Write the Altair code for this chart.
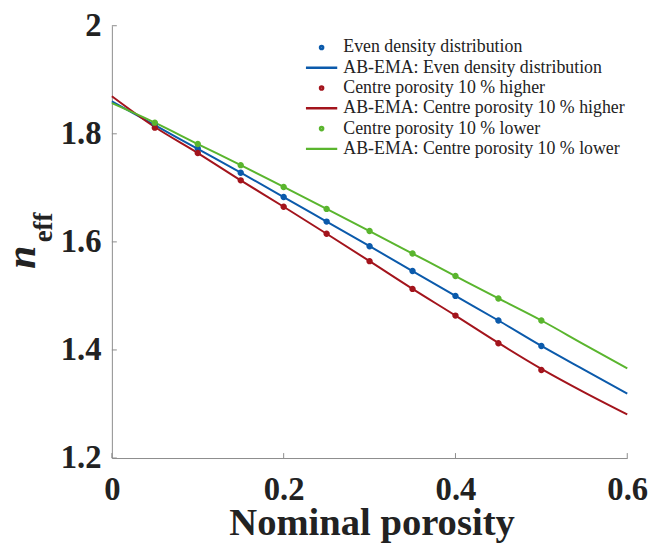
import altair as alt
import pandas as pd

# ---- data ----
pt_x = [0.05, 0.10, 0.15, 0.20, 0.25, 0.30, 0.35, 0.40, 0.45, 0.50]
even_pts = [1.817, 1.773, 1.728, 1.683, 1.6375, 1.592, 1.546, 1.500, 1.4545, 1.4074]
higher_pts = [1.8114, 1.7644, 1.7139, 1.665, 1.615, 1.5643, 1.513, 1.4636, 1.4124, 1.3629]
lower_pts = [1.8206, 1.781, 1.742, 1.7016, 1.661, 1.620, 1.5784, 1.5368, 1.4953, 1.4545]

line_x = [0.0, 0.05, 0.10, 0.15, 0.20, 0.25, 0.30, 0.35, 0.40, 0.45, 0.50, 0.55, 0.60]
even_line = [1.860, 1.816, 1.772, 1.728, 1.683, 1.6375, 1.592, 1.546, 1.500, 1.4545, 1.4074, 1.363, 1.319]
higher_line = [1.8695, 1.8125, 1.7644, 1.7139, 1.665, 1.615, 1.5643, 1.513, 1.4636, 1.4130, 1.3650, 1.3215, 1.2806]
lower_line = [1.8567, 1.8206, 1.781, 1.742, 1.7016, 1.661, 1.620, 1.5784, 1.5368, 1.4953, 1.4545, 1.410, 1.366]

series_names = [
    "Even density distribution",
    "AB-EMA: Even density distribution",
    "Centre porosity 10 % higher",
    "AB-EMA: Centre porosity 10 % higher",
    "Centre porosity 10 % lower",
    "AB-EMA: Centre porosity 10 % lower",
]
x_ticks = [0, 0.2, 0.4, 0.6]
y_ticks = [1.2, 1.4, 1.6, 1.8, 2.0]

BLUE, RED, GREEN = "#0b5aab", "#a3141c", "#5ab52e"
colors = [BLUE, BLUE, RED, RED, GREEN, GREEN]
LINE_SYM = "M-10,0H10"
shapes = ["circle", LINE_SYM, "circle", LINE_SYM, "circle", LINE_SYM]

W, H = 521, 437
SERIF = "Liberation Serif"

pts_df = pd.concat([
    pd.DataFrame({"x": pt_x, "y": even_pts, "series": series_names[0]}),
    pd.DataFrame({"x": pt_x, "y": higher_pts, "series": series_names[2]}),
    pd.DataFrame({"x": pt_x, "y": lower_pts, "series": series_names[4]}),
])
lines_df = pd.concat([
    pd.DataFrame({"x": line_x, "y": even_line, "series": series_names[1]}),
    pd.DataFrame({"x": line_x, "y": higher_line, "series": series_names[3]}),
    pd.DataFrame({"x": line_x, "y": lower_line, "series": series_names[5]}),
])

xscale = alt.Scale(domain=[0, 0.6], nice=False)
yscale = alt.Scale(domain=[1.2, 2.0], nice=False)
cscale = alt.Scale(domain=series_names, range=colors)
sscale = alt.Scale(domain=series_names, range=shapes)

xaxis = alt.Axis(values=x_ticks, format="~g", ticks=False, tickSize=0, grid=False,
                 domainColor="#8c8c8c", domainWidth=1, labelFont=SERIF, labelFontSize=33,
                 labelFontWeight="bold", labelColor="#222", labelPadding=16,
                 title="Nominal porosity", titleFont=SERIF, titleFontSize=39,
                 titleFontWeight="bold", titleColor="#222", titleBaseline="alphabetic",
                 titleY=77, titleX=W / 2 + 2, labelFlush=False)
yaxis = alt.Axis(values=y_ticks, format="~g", ticks=False, tickSize=0, grid=False,
                 domainColor="#8c8c8c", domainWidth=1, labelFont=SERIF, labelFontSize=33,
                 labelFontWeight="bold", labelColor="#222", labelPadding=11, title=None,
                 labelFlush=False)

legend = alt.Legend(
    orient="none", legendX=203, legendY=13, title=None, padding=0,
    labelFont=SERIF, labelFontSize=18, labelColor="#222", labelLimit=0,
    labelOffset=13, rowPadding=2.5, symbolSize=10, symbolStrokeWidth=2.5,
    symbolOpacity=1, symbolFillColor="transparent",
)

lines = alt.Chart(lines_df).mark_line(strokeWidth=2, interpolate="monotone").encode(
    x=alt.X("x:Q", scale=xscale, axis=xaxis),
    y=alt.Y("y:Q", scale=yscale, axis=yaxis),
    color=alt.Color("series:N", scale=cscale, legend=legend),
    detail="series:N",
)
points = alt.Chart(pts_df).mark_point(filled=False, size=12, opacity=1, strokeWidth=3).encode(
    x=alt.X("x:Q", scale=xscale),
    y=alt.Y("y:Q", scale=yscale),
    color=alt.Color("series:N", scale=cscale, legend=legend),
    shape=alt.Shape("series:N", scale=sscale, legend=legend),
)

xt = alt.Chart(pd.DataFrame({"v": x_ticks})).mark_rule(color="#8c8c8c", strokeWidth=1).encode(
    x=alt.X("v:Q", scale=xscale), y=alt.value(H), y2=alt.value(H - 5))
yt = alt.Chart(pd.DataFrame({"v": y_ticks})).mark_rule(color="#8c8c8c", strokeWidth=1).encode(
    y=alt.Y("v:Q", scale=yscale), x=alt.value(0), x2=alt.value(5))

n_title = alt.Chart(pd.DataFrame({"t": ["n"]})).mark_text(
    font=SERIF, fontSize=42, fontWeight="bold", fontStyle="italic", angle=270,
    align="center", baseline="alphabetic", color="#222").encode(
    text="t:N", x=alt.value(-78), y=alt.value(234))
eff_title = alt.Chart(pd.DataFrame({"t": ["eff"]})).mark_text(
    font=SERIF, fontSize=27, fontWeight="bold", angle=270,
    align="center", baseline="alphabetic", color="#222").encode(
    text="t:N", x=alt.value(-61), y=alt.value(204))

chart = alt.layer(lines, points, xt, yt, n_title, eff_title).properties(
    width=W, height=H,
    autosize=alt.AutoSizeParams(type="none"),
    padding={"left": 105, "top": 15, "right": 25, "bottom": 85},
).configure_view(stroke=None)

chart.save("out.html", embed_options={"renderer": "svg", "actions": False})
